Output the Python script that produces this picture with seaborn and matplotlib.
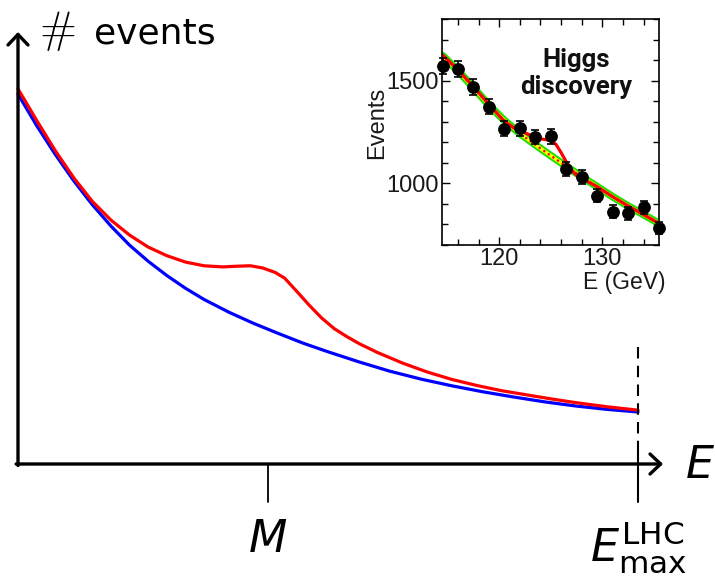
import numpy as np
import matplotlib.pyplot as plt
import seaborn as sns
import pandas as pd
from matplotlib.ticker import MultipleLocator

# --- main sketch: energy in units of E_max, number of events in arbitrary units ---
energy_sm = [0.00, 0.03, 0.06, 0.09, 0.12, 0.15, 0.18, 0.21, 0.24, 0.27, 0.30,
             0.34, 0.38, 0.42, 0.46, 0.50, 0.55, 0.60, 0.65, 0.70, 0.75, 0.80,
             0.85, 0.90, 0.95, 1.00]
events_sm = [0.989, 0.905, 0.828, 0.757, 0.693, 0.636, 0.585, 0.542, 0.504, 0.470,
             0.440, 0.406, 0.376, 0.349, 0.323, 0.300, 0.273, 0.248, 0.227, 0.209,
             0.193, 0.179, 0.166, 0.155, 0.146, 0.139]

energy_new = [0.00, 0.03, 0.06, 0.09, 0.12, 0.15, 0.18, 0.21, 0.24, 0.27, 0.30,
              0.33, 0.355, 0.375, 0.395, 0.415, 0.43, 0.45, 0.47, 0.49, 0.51,
              0.53, 0.55, 0.58, 0.62, 0.66, 0.70, 0.74, 0.78, 0.82, 0.86, 0.90,
              0.95, 1.00]
events_new = [1.003, 0.919, 0.838, 0.765, 0.702, 0.652, 0.612, 0.580, 0.557, 0.540,
              0.530, 0.527, 0.529, 0.530, 0.524, 0.512, 0.497, 0.461, 0.424, 0.390,
              0.362, 0.341, 0.322, 0.298, 0.270, 0.246, 0.226, 0.210, 0.196, 0.185,
              0.174, 0.164, 0.153, 0.144]

mass_pos = 0.403

# --- inset: Higgs discovery (GeV, events) ---
higgs_e = [114.5, 116.0, 117.5, 119.0, 120.5, 122.0, 123.5, 125.0, 126.5, 128.0,
           129.5, 131.0, 132.5, 134.0, 135.5]
higgs_events = [1572, 1556, 1468, 1374, 1266, 1268, 1226, 1229, 1071, 1029,
                940, 863, 854, 883, 783]
higgs_err = [40, 40, 39, 38, 37, 37, 36, 36, 34, 34, 32, 31, 31, 31, 29]

bkg_e = [114.5, 116.0, 117.5, 119.0, 120.5, 122.0, 123.5, 125.0, 126.5, 128.0,
         129.5, 131.0, 132.5, 134.0, 135.5]
bkg_fit = [1622, 1548, 1466, 1381, 1306, 1243, 1188, 1135, 1083, 1032,
           984, 935, 890, 848, 805]

sig_e = [114.5, 116.0, 117.5, 119.0, 120.5, 121.5, 122.5, 123.5, 124.0, 124.5,
         125.0, 125.5, 126.0, 126.5, 127.0, 127.5, 128.25, 129.5, 131.0, 132.5,
         134.0, 135.5]
sig_fit = [1625, 1552, 1470, 1385, 1302, 1268, 1246, 1224, 1217, 1213,
           1208, 1190, 1150, 1105, 1066, 1040, 1018, 984, 935, 890,
           848, 805]

W, H = 715, 576


def fx(px):
    return px / W


def fy(py):
    return 1 - py / H


sns.set_style('white')
plt.rcParams['font.family'] = ['DejaVu Sans']
plt.rcParams['mathtext.fontset'] = 'dejavusans'
plt.rcParams['text.color'] = 'black'

fig = plt.figure(figsize=(7.15, 5.76), dpi=100)

# main axes, spanning the figure; origin at pixel (18, 464), E_max at pixel 638
ax = fig.add_axes([0, 0, 1, 1])
ax.set_xlim(-18 / 620, (W - 18) / 620)
ax.set_ylim((464 - H) / 374, 464 / 374)
ax.axis('off')

sns.lineplot(x=energy_sm, y=events_sm, color='#0000ff', lw=2.3, sort=False,
             estimator=None, ax=ax)
sns.lineplot(x=energy_new, y=events_new, color='#ff0000', lw=2.3, sort=False,
             estimator=None, ax=ax)

arrow = dict(arrowstyle='->,head_length=0.38,head_width=0.36', lw=2.4,
             color='black', mutation_scale=20, shrinkA=0, shrinkB=0)
ax.annotate('', xy=(0, (464 - 32) / 374), xytext=(0, -0.004), arrowprops=arrow)
ax.annotate('', xy=((663 - 18) / 620, 0), xytext=(-0.003, 0), arrowprops=arrow)

# ticks at M and E_max
ax.plot([mass_pos, mass_pos], [0, (464 - 502) / 374], color='black', lw=1.3)
ax.plot([1, 1], [(464 - 452) / 374, (464 - 502) / 374], color='black', lw=1.5)
ax.plot([1, 1], [(464 - 347) / 374, (464 - 452) / 374], color='black', lw=1.5,
        dashes=(5.5, 3.5))

fig.text(fx(57), fy(31), r'$\#$', fontsize=32, math_fontfamily='cm',
         ha='center', va='center')
fig.text(fx(94), fy(43), 'events', fontsize=26, ha='left', va='baseline')
fig.text(fx(700), fy(466), r'$E$', fontsize=32, ha='center', va='center')
fig.text(fx(268), fy(552), r'$M$', fontsize=32, ha='center', va='baseline')
fig.text(fx(638), fy(561), r'$E_{\mathrm{max}}^{\mathrm{LHC}}$', fontsize=32,
         ha='center', va='baseline')

# inset
axin = fig.add_axes([fx(442), fy(245), 217 / W, 226 / H])
axin.set_facecolor('white')

sns.lineplot(x=bkg_e, y=bkg_fit, color='#22dd00', lw=5.5, estimator=None, ax=axin)
sns.lineplot(x=bkg_e, y=bkg_fit, color='#ffff00', lw=2.6, estimator=None, ax=axin)
sns.lineplot(x=bkg_e, y=bkg_fit, color='#ff0000', lw=1.6, estimator=None, ax=axin,
             linestyle=(0, (1, 1.5)))
sns.lineplot(x=sig_e, y=sig_fit, color='#ff0000', lw=2.3, estimator=None, ax=axin)

axin.errorbar(higgs_e, higgs_events, yerr=higgs_err, fmt='none', ecolor='black',
              elinewidth=1.2, capsize=2.6, capthick=1.2, clip_on=False, zorder=4)
sns.scatterplot(x=higgs_e, y=higgs_events, color='black', s=85, edgecolor='black',
                linewidth=0, clip_on=False, zorder=5, ax=axin)

axin.set_xlim(114.45, 135.5)
axin.set_ylim(700, 1800)
axin.xaxis.set_major_locator(MultipleLocator(10))
axin.xaxis.set_minor_locator(MultipleLocator(2))
axin.yaxis.set_major_locator(MultipleLocator(500))
axin.yaxis.set_minor_locator(MultipleLocator(100))
axin.tick_params(which='both', direction='in', top=True, right=True,
                 bottom=True, left=True, color='black', width=1.0,
                 labelsize=17, pad=2, labelfontfamily='Liberation Sans',
                 labelcolor='#1a1a1a')
axin.tick_params(which='major', length=6)
axin.tick_params(which='minor', length=4)
for sp in axin.spines.values():
    sp.set_visible(True)
    sp.set_color('black')
    sp.set_linewidth(1.2)
axin.set_xlabel('')
axin.set_ylabel('')

axin.text(-0.30, 0.54, 'Events', transform=axin.transAxes, rotation=90,
          ha='center', va='center', fontsize=17, family='Liberation Sans',
          color='#1a1a1a')
axin.text(1.028, -0.164, 'E (GeV)', transform=axin.transAxes, ha='right',
          va='center', fontsize=16.5, family='Liberation Sans', color='#1a1a1a')
axin.text(0.617, (245 - 67) / 226, 'Higgs', transform=axin.transAxes,
          ha='center', va='baseline', fontsize=18.5, fontweight='bold',
          family=['Roboto', 'DejaVu Sans'], color='#111111')
axin.text(0.617, (245 - 94) / 226, 'discovery', transform=axin.transAxes,
          ha='center', va='baseline', fontsize=18.5, fontweight='bold',
          family=['Roboto', 'DejaVu Sans'], color='#111111')

fig.savefig('out.png', dpi=100)
